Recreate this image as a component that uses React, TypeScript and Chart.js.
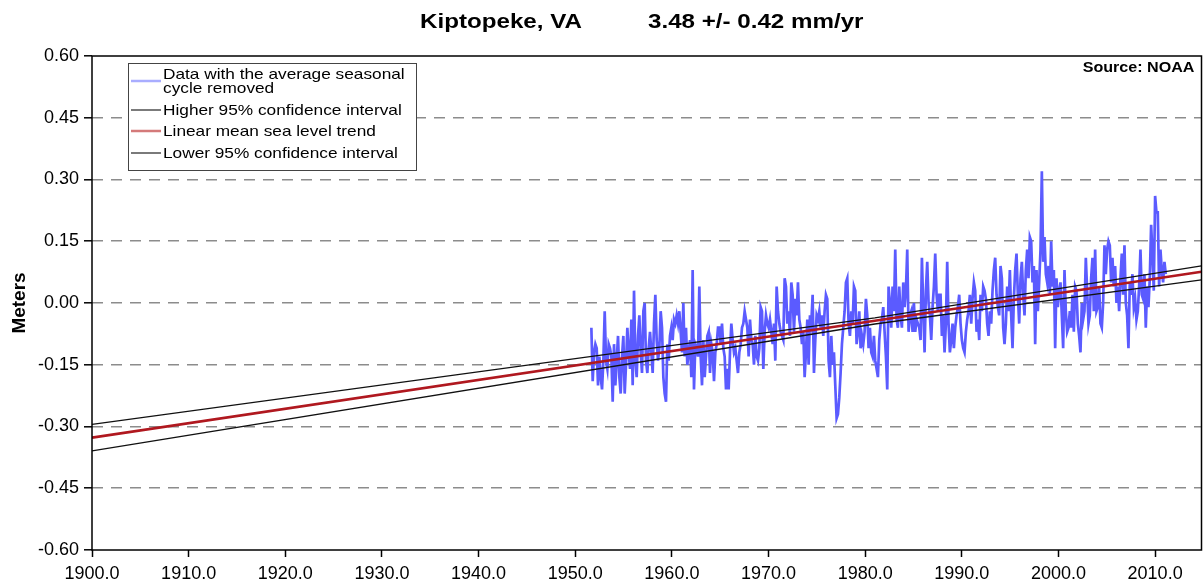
import React, { useEffect, useRef } from "react";
import { Chart, registerables } from "chart.js";

Chart.register(...registerables);

const TITLE_LEFT = "Kiptopeke, VA";
const TITLE_RIGHT = "3.48 +/- 0.42 mm/yr";
const SOURCE_LABEL = "Source: NOAA";
const Y_TITLE = "Meters";

const X_MIN = 1900;
const X_MAX = 2014.8;
const X_TICKS = [1900, 1910, 1920, 1930, 1940, 1950, 1960, 1970, 1980, 1990, 2000, 2010];
const Y_TICKS = [-0.6, -0.45, -0.3, -0.15, 0, 0.15, 0.3, 0.45, 0.6];

const LEGEND_LABELS = [
  ["Data with the average seasonal", "cycle removed"],
  ["Higher 95% confidence interval"],
  ["Linear mean sea level trend"],
  ["Lower 95% confidence interval"],
];

// Readings of the de-seasoned series (meters), one every ~1.66 months
const READING_STEP = 0.1379;
const SEGMENT_STARTS = [1951.67, 1962.98, 1975.39, 1987.8, 2000.21];

const seg1952 = [
  -0.06, -0.19, -0.12, -0.1, -0.11, -0.2, -0.13, -0.18, -0.21, -0.14,
  -0.02, -0.14, -0.16, -0.1, -0.11, -0.13, -0.24, -0.1, -0.2, -0.14,
  -0.08, -0.18, -0.22, -0.13, -0.08, -0.22, -0.15, -0.06, -0.12, -0.16,
  -0.04, -0.2, 0.03, -0.14, -0.18, -0.08, -0.03, -0.12, -0.17, -0.02,
  0.0, -0.14, -0.17, -0.11, -0.07, -0.12, -0.17, -0.05, 0.02, -0.09,
  -0.14, -0.11, -0.02, -0.06, -0.18, -0.22, -0.24, -0.1, -0.14, -0.08,
  -0.06, -0.09, -0.04, -0.05, -0.03, -0.05, -0.02, -0.07, -0.12, 0.0,
  -0.13, -0.06, -0.15, -0.12, -0.09, -0.18, 0.08, -0.21, -0.1, -0.11,
  -0.13, 0.04,
];

const seg1963 = [
  -0.13, -0.2, -0.09, -0.18, -0.13, -0.08, -0.07, -0.17, -0.1, -0.12,
  -0.19, -0.12, -0.1, -0.06, -0.06, -0.1, -0.05, -0.11, -0.13, -0.21,
  -0.16, -0.21, -0.12, -0.05, -0.09, -0.12, -0.11, -0.14, -0.17, -0.12,
  -0.1, -0.06, -0.05, -0.02, -0.04, -0.06, -0.13, -0.04, -0.09, -0.1,
  -0.15, -0.08, -0.13, -0.14, -0.11, -0.01, -0.02, -0.16, -0.07, -0.03,
  -0.05, -0.06, -0.04, -0.07, -0.1, -0.05, -0.14, 0.04, -0.02, -0.05,
  -0.07, -0.08, -0.09, 0.06, 0.04, -0.05, -0.02, -0.08, 0.05, 0.02,
  -0.07, 0.01, -0.03, 0.05, -0.04, -0.06, -0.1, -0.07, -0.18, -0.12,
  -0.04, -0.15, -0.03, -0.05, 0.02, -0.17, -0.09, -0.03, -0.04, -0.02,
];

const seg1975 = [
  -0.06, -0.03, -0.08, -0.02, 0.02, 0.01, -0.14, -0.18, -0.08, -0.15,
  -0.12, -0.2, -0.28, -0.27, -0.23, -0.17, -0.1, -0.06, -0.02, 0.05,
  0.06, -0.05, -0.08, -0.02, -0.05, 0.04, 0.03, -0.1, -0.07, -0.02,
  -0.11, -0.08, -0.1, -0.07, 0.01, -0.03, -0.11, -0.06, -0.12, -0.13,
  -0.08, -0.14, -0.16, -0.18, -0.09, -0.05, -0.04, -0.01, -0.07, -0.13,
  -0.21, 0.04, 0.0, -0.06, 0.04, -0.02, 0.13, -0.04, -0.06, 0.04,
  -0.03, -0.06, 0.05, -0.01, 0.03, 0.13, -0.07, -0.03, -0.02, -0.07,
  0.0, -0.07, -0.04, -0.05, -0.06, -0.09, 0.11, -0.01, -0.12, 0.03,
  0.1, 0.0, -0.03, -0.09, -0.01, 0.04, 0.12, 0.02, -0.02, 0.02,
];

const seg1988 = [
  0.02, -0.08, -0.03, -0.12, -0.05, 0.1, -0.05, -0.12, -0.09, -0.05,
  -0.11, -0.06, -0.03, -0.01, 0.02, -0.05, -0.09, -0.11, -0.12, -0.07,
  -0.04, -0.02, 0.02, -0.05, 0.01, 0.05, 0.03, -0.07, -0.04, -0.09,
  0.02, -0.02, 0.04, 0.03, 0.01, -0.05, -0.08, -0.02, -0.05, 0.03,
  0.08, 0.11, 0.02, -0.01, -0.03, 0.09, 0.06, -0.06, -0.1, -0.05,
  0.04, -0.02, 0.08, -0.03, -0.11, 0.01, 0.08, 0.12, 0.02, -0.05,
  0.06, 0.1, 0.02, -0.03, 0.08, 0.13, 0.06, 0.16, 0.15, 0.05,
  0.09, -0.1, 0.08, -0.02, 0.05, 0.13, 0.32, 0.1, 0.16, 0.07,
  0.05, 0.09, 0.02, 0.15, 0.04, 0.08, -0.11, 0.06, -0.01, 0.03,
];

const seg2000 = [
  0.05, -0.03, -0.11, 0.08, -0.02, -0.07, -0.06, -0.02, -0.06, 0.02,
  -0.07, 0.04, 0.03, -0.05, -0.08, -0.12, 0.0, -0.04, -0.02, 0.11,
  0.03, -0.05, -0.03, 0.06, 0.11, -0.02, 0.13, -0.02, -0.01, 0.04,
  -0.05, -0.06, 0.0, 0.14, 0.07, 0.13, 0.15, 0.14, 0.05, 0.11,
  0.04, 0.09, 0.0, 0.04, -0.02, 0.06, 0.12, 0.02, 0.14, 0.0,
  -0.03, -0.11, 0.05, 0.02, 0.07, -0.01, 0.01, -0.04, -0.02, 0.04,
  0.13, 0.02, 0.01, 0.07, -0.06, 0.04, -0.01, 0.06, 0.19, 0.12,
  0.03, 0.26, 0.22, 0.22, 0.04, 0.13, 0.08, 0.05, 0.1, 0.07,
];

const SEGMENTS = [seg1952, seg1963, seg1975, seg1988, seg2000];

// Trend line and 95% confidence lines (meters)
const TREND_YEARS = [1900, 1981, 2014.8];
const TREND_VALUES = [-0.327, -0.043, 0.076];
const UPPER_VALUES = [-0.295, -0.036, 0.09];
const LOWER_VALUES = [-0.359, -0.051, 0.056];

const BLUE = "#5b5bff";
const RED = "#b0181f";
const BLACK = "#111111";
const LEGEND_SWATCHES = ["#a9adff", "#222222", "#d47a7a", "#222222"];

const FONT = "'Liberation Sans', Arial, sans-serif";

function buildSeries() {
  const pts: { x: number; y: number }[] = [];
  SEGMENTS.forEach((seg, si) => {
    seg.forEach((v, i) => {
      pts.push({ x: SEGMENT_STARTS[si] + i * READING_STEP, y: v });
    });
  });
  return pts;
}

function linePts(ys: number[]) {
  return TREND_YEARS.map((x, i) => ({ x, y: ys[i] }));
}

function stretchText(
  ctx: CanvasRenderingContext2D,
  text: string,
  x: number,
  y: number,
  font: string,
  align: CanvasTextAlign,
  sx: number
) {
  ctx.save();
  ctx.font = font;
  ctx.fillStyle = "#000";
  ctx.textBaseline = "middle";
  ctx.textAlign = align;
  ctx.translate(x, y);
  ctx.scale(sx, 1);
  ctx.fillText(text, 0, 0);
  ctx.restore();
}

const decorPlugin = {
  id: "decor",
  afterDatasetsDraw(chart: any) {
    const { ctx, chartArea } = chart;
    ctx.save();
    ctx.strokeStyle = "#000";
    ctx.lineWidth = 1.5;
    ctx.strokeRect(
      chartArea.left,
      chartArea.top,
      chartArea.right - chartArea.left,
      chartArea.bottom - chartArea.top
    );
    ctx.restore();
  },
  afterDraw(chart: any) {
    const { ctx, chartArea } = chart;
    const SX = 1.15;
    // title
    stretchText(ctx, TITLE_LEFT, 420, 22, `bold 21px ${FONT}`, "left", SX);
    stretchText(ctx, TITLE_RIGHT, 648, 22, `bold 21px ${FONT}`, "left", SX);
    // source
    stretchText(ctx, SOURCE_LABEL, chartArea.right - 7, 68, `bold 14px ${FONT}`, "right", SX);
    // y title
    ctx.save();
    ctx.translate(20, (chartArea.top + chartArea.bottom) / 2);
    ctx.rotate(-Math.PI / 2);
    ctx.font = `bold 19px ${FONT}`;
    ctx.fillStyle = "#000";
    ctx.textAlign = "center";
    ctx.textBaseline = "middle";
    ctx.fillText(Y_TITLE, 0, 0);
    ctx.restore();

    // legend box
    const bx = 128.5;
    const by = 63.5;
    const bw = 288;
    const bh = 107;
    ctx.save();
    ctx.fillStyle = "#fff";
    ctx.fillRect(bx, by, bw, bh);
    ctx.strokeStyle = "#444";
    ctx.lineWidth = 1;
    ctx.strokeRect(bx, by, bw, bh);
    ctx.restore();

    const textRows = [
      [75, 89],
      [111],
      [132],
      [154],
    ];
    const swatchY = [81, 110, 131, 153];
    LEGEND_LABELS.forEach((lines, i) => {
      ctx.save();
      ctx.strokeStyle = LEGEND_SWATCHES[i];
      ctx.lineWidth = i === 0 || i === 2 ? 2.5 : 1.2;
      ctx.beginPath();
      ctx.moveTo(131, swatchY[i]);
      ctx.lineTo(161, swatchY[i]);
      ctx.stroke();
      ctx.restore();
      lines.forEach((t, j) => {
        stretchText(ctx, t, 163, textRows[i][j], `15px ${FONT}`, "left", SX);
      });
    });
  },
};

export default function App() {
  const ref = useRef<HTMLCanvasElement | null>(null);

  useEffect(() => {
    if (!ref.current) return;
    const chart = new Chart(ref.current, {
      type: "line",
      data: {
        datasets: [
          {
            label: LEGEND_LABELS[1].join(" "),
            data: linePts(UPPER_VALUES),
            borderColor: BLACK,
            borderWidth: 1.3,
            pointRadius: 0,
            order: 1,
          },
          {
            label: LEGEND_LABELS[2].join(" "),
            data: linePts(TREND_VALUES),
            borderColor: RED,
            borderWidth: 2.6,
            pointRadius: 0,
            order: 2,
          },
          {
            label: LEGEND_LABELS[3].join(" "),
            data: linePts(LOWER_VALUES),
            borderColor: BLACK,
            borderWidth: 1.3,
            pointRadius: 0,
            order: 1,
          },
          {
            label: LEGEND_LABELS[0].join(" "),
            data: buildSeries(),
            borderColor: BLUE,
            borderWidth: 2.7,
            pointRadius: 0,
            tension: 0,
            order: 5,
          },
        ],
      },
      options: {
        responsive: false,
        animation: false,
        devicePixelRatio: 1,
        parsing: true,
        layout: { padding: { top: 56, right: 1.5, left: 0, bottom: 0 } },
        plugins: {
          legend: { display: false },
          title: { display: false },
          tooltip: { enabled: false },
        },
        scales: {
          x: {
            type: "linear",
            min: X_MIN,
            max: X_MAX,
            afterBuildTicks: (s: any) => {
              s.ticks = X_TICKS.map((v) => ({ value: v }));
            },
            afterFit: (s: any) => {
              s.height = 32;
            },
            border: { display: false },
            grid: {
              drawOnChartArea: false,
              drawTicks: true,
              tickLength: 7,
              tickColor: "#000",
              tickWidth: 1.5,
            },
            ticks: {
              font: { family: FONT, size: 18 },
              color: "#000",
              padding: 6,
              maxRotation: 0,
              autoSkip: false,
              callback: (v: any) => Number(v).toFixed(1),
            },
          },
          y: {
            type: "linear",
            min: -0.6,
            max: 0.6,
            afterBuildTicks: (s: any) => {
              s.ticks = Y_TICKS.map((v) => ({ value: v }));
            },
            afterFit: (s: any) => {
              s.width = 92;
            },
            border: { display: false, dash: [11, 8] },
            grid: {
              color: (c: any) =>
                c.tick && Math.abs(c.tick.value) > 0.59 ? "rgba(0,0,0,0)" : "#8c8c8c",
              lineWidth: 1.6,
              drawTicks: true,
              tickLength: 8,
              tickColor: "#000",
              tickWidth: 1.5,
            },
            ticks: {
              font: { family: FONT, size: 18 },
              color: "#000",
              padding: 5,
              autoSkip: false,
              callback: (v: any) => Number(v).toFixed(2),
            },
          },
        },
      },
      plugins: [decorPlugin],
    });
    return () => chart.destroy();
  }, []);

  return (
    <div style={{ position: "fixed", left: 0, top: 0, width: 1203, height: 582, background: "#fff" }}>
      <canvas ref={ref} width={1203} height={582} style={{ display: "block" }} />
    </div>
  );
}
